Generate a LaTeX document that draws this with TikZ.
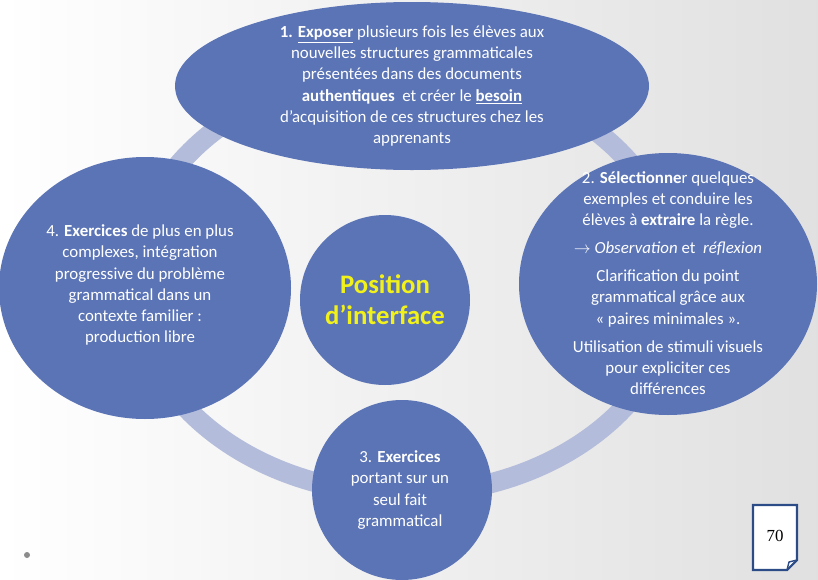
\documentclass[tikz,border=0pt]{standalone}
\usepackage{fontspec}
\setmainfont{Carlito}
\newfontfamily\numfont{Liberation Serif}
\definecolor{bubble}{HTML}{5B74B6}
\definecolor{ringcol}{HTML}{B3BCDB}
\definecolor{boxcol}{HTML}{2B4C86}
\definecolor{sunny}{HTML}{F2F21A}

\begin{document}
\begin{tikzpicture}[x=0.025cm, y=-0.025cm]

    % Define some common styles
    \tikzset{
        bubble/.style={fill=bubble},
        bubbletext/.style={text=white, align=center, inner sep=0pt,
            font=\fontsize{12}{15}\selectfont},
        ringline/.style={draw=ringcol, line width=0.5cm}
    }

    % Background
    \shade[left color=white, right color=black!12] (0,0) rectangle (818,580);
    \useasboundingbox (0,0) rectangle (818,580);

    % Ring behind the bubbles
    \draw[ringline] (405,282) ellipse [x radius=272, y radius=212];

    % Bubbles
    \fill[bubble] (412,86) ellipse [x radius=237, y radius=84];
    \fill[bubble] (668,284) ellipse [x radius=149, y radius=131];
    \fill[bubble] (145,288) ellipse [x radius=146, y radius=131];
    \fill[bubble] (402,490) circle (90);
    \fill[bubble] (385,300) circle (85);

    % Texts
    \node[bubbletext] (expose) at (412,86)
        {\textbf{1. \underline{Exposer}} plusieurs fois les élèves aux\\
         nouvelles structures grammaticales\\
         présentées dans des documents\\
         \textbf{authentiques}\ \ et créer le \textbf{\underline{besoin}}\\
         d’acquisition de ces structures chez les\\
         apprenants};
    \node[bubbletext] (select) at (668,283)
        {2. \textbf{Sélectionne}r quelques\\
         exemples et conduire les\\
         élèves à \textbf{extraire} la règle.\\[5pt]
         $\rightarrow$ \textit{Observation} et\ \ \textit{réflexion}\\[5pt]
         Clarification du point\\
         grammatical grâce aux\\
         «~paires minimales~».\\[5pt]
         Utilisation de stimuli visuels\\
         pour expliciter ces\\
         différences};
    \node[bubbletext] (complex) at (140,285)
        {4. \textbf{Exercices} de plus en plus\\
         complexes, intégration\\
         progressive du problème\\
         grammatical dans un\\
         contexte familier :\\
         production libre};
    \node[bubbletext] (simple) at (400,490)
        {3. \textbf{Exercices}\\
         portant sur un\\
         seul fait\\
         grammatical};
    \node[bubbletext, text=sunny, font=\fontsize{19}{22}\selectfont\bfseries] (interface) at (385,300)
        {Position\\d’interface};

    % Page number box with folded corner
    \draw[boxcol, line width=1.5pt, fill=white] (753,505) -- (797,505) -- (797,560)
        -- (787,570) -- (753,570) -- cycle;
    \draw[boxcol, line width=1pt] (797,560) -- (789,562) -- (787,570);
    \node[font=\numfont\fontsize{12}{14}\selectfont] (page) at (775,536) {70};

    % Bullet dot
    \fill[black!45] (27,555) circle (3);

\end{tikzpicture}
\end{document}
